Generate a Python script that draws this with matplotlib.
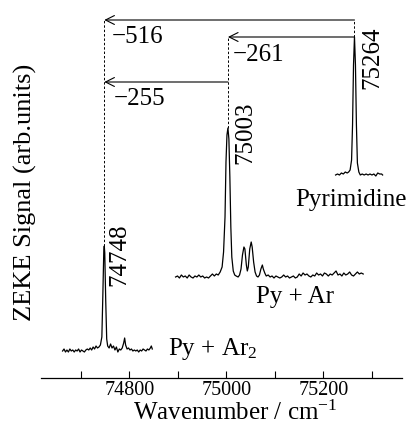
import matplotlib
matplotlib.use("Agg")
import matplotlib.pyplot as plt

plt.rcParams['font.family'] = ['Liberation Serif', 'DejaVu Serif']
plt.rcParams['mathtext.fontset'] = 'custom'
plt.rcParams['mathtext.rm'] = 'Liberation Serif'
plt.rcParams['mathtext.it'] = 'Liberation Serif:italic'

# ---------------- data ----------------
# Py + Ar2 spectrum (wavenumber, signal above its own baseline)
ar2_x = [74662, 74665, 74668, 74671, 74674, 74677, 74680, 74683, 74686, 74689,
         74692, 74695, 74698, 74701, 74704, 74707, 74710, 74713, 74716, 74719,
         74722, 74725, 74728, 74731, 74734, 74737, 74740, 74743, 74745, 74747,
         74748, 74749, 74751, 74753, 74755, 74758, 74761, 74764, 74767, 74770,
         74773, 74776, 74779, 74782, 74785, 74788, 74790, 74792, 74795, 74798,
         74801, 74804, 74807, 74810, 74813, 74816, 74819, 74822, 74825, 74828,
         74831, 74834, 74837, 74840, 74843, 74845, 74847]
ar2_y = [0, 2, -1, 1, -1, 2, 0, 1, -1, 1,
         0, 2, -1, 1, 0, -1, 1, 2, 1, 3,
         1, 4, 2, 5, 3, 4, 6, 14, 55, 100,
         105, 98, 50, 12, 5, 3, 7, 3, 5, 1,
         4, -1, 2, 1, 3, 8, 13, 6, 2, 3,
         1, 2, 0, 1, 0, 1, -1, 1, 0, 2,
         1, 0, 2, 1, 3, 5, 2]

# Py + Ar spectrum
ar_x = [74895, 74899, 74903, 74907, 74911, 74915, 74919, 74923, 74927, 74931,
        74935, 74939, 74943, 74947, 74951, 74955, 74959, 74963, 74967, 74971,
        74975, 74979, 74983, 74987, 74991, 74994, 74997, 74999, 75001, 75003,
        75005, 75007, 75009, 75011, 75014, 75017, 75020, 75024, 75027, 75030,
        75033, 75036, 75038, 75041, 75043, 75045, 75048, 75051, 75053, 75056,
        75059, 75062, 75065, 75068, 75071, 75074, 75076, 75079, 75082, 75086,
        75090, 75094, 75098, 75102, 75106, 75110, 75114, 75118, 75122, 75126,
        75130, 75134, 75138, 75142, 75146, 75150, 75154, 75158, 75162, 75166,
        75170, 75174, 75178, 75182, 75186, 75190, 75194, 75198, 75202, 75206,
        75210, 75214, 75218, 75222, 75226, 75230, 75234, 75238, 75242, 75246,
        75250, 75254, 75258, 75262, 75266, 75270, 75274, 75278, 75282]
ar_y = [0, 1, -1, 2, 0, 1, -1, 2, 0, -1,
        1, 0, 2, 0, 1, -1, 0, -1, 1, 3,
        1, 3, 2, 5, 10, 25, 60, 115, 142, 149,
        138, 100, 50, 20, 6, 2, 1, 0, 2, 8,
        22, 30, 28, 12, 6, 10, 28, 35, 30, 15,
        5, 1, 0, 2, 8, 12, 8, 4, 1, 2,
        0, 1, -1, 1, 0, -1, 0, 2, 0, 1,
        -1, 0, 1, -1, 0, 3, 1, 4, 2, 3,
        1, 0, 2, 1, 4, 2, 3, 1, 4, 3,
        1, 3, 2, 4, 6, 2, 3, 1, 4, 2,
        3, 5, 2, 1, 3, 5, 3, 4, 3]

# Pyrimidine spectrum
py_x = [75225, 75229, 75233, 75237, 75241, 75245, 75249, 75252, 75255, 75258,
        75260, 75262, 75264, 75266, 75268, 75270, 75273, 75276, 75280, 75284,
        75288, 75292, 75296, 75300, 75304, 75308, 75312, 75316, 75320, 75322]
py_y = [0, 1, 0, 2, 1, 3, 2, 3, 5, 15,
        50, 110, 138, 110, 50, 12, 3, 0, 1, 0,
        1, 0, 1, 0, 1, -1, 2, 1, 1, 0]

# vertical stacking offsets of the three traces
offsets = {'ar2': 27, 'ar': 101, 'py': 203}

peak_pos = [74748, 75003, 75264]
peak_labels = ['74748', '75003', '75264']
shifts = ['\u2212516', '\u2212261', '\u2212255']
names = ['Pyrimidine', 'Py + Ar', 'Py + Ar$_2$']

xticks = [74700, 74800, 74900, 75000, 75100, 75200, 75300]
xticklabels = ['', '74800', '', '75000', '', '75200', '']

# ---------------- figure ----------------
fig = plt.figure(figsize=(4.11, 4.24), dpi=100)
ax = fig.add_axes([41/411, 46/424, 361/411, 378/424])
ax.set_xlim(74617.5, 75362)
ax.set_ylim(0, 378)

lw = 0.9
ax.plot(ar2_x, [v + offsets['ar2'] for v in ar2_y], color='black', lw=lw)
ax.plot(ar_x, [v + offsets['ar'] for v in ar_y], color='black', lw=lw)
ax.plot(py_x, [v + offsets['py'] for v in py_y], color='black', lw=lw)

# peak tops
top_ar2 = max(ar2_y) + offsets['ar2']
top_ar = max(ar_y) + offsets['ar']
top_py = max(py_y) + offsets['py']

lvl1, lvl2, lvl3 = 358, top_py, 296

dash = dict(color='black', lw=0.7, linestyle=(0, (2.5, 2)))
ax.plot([peak_pos[0]] * 2, [top_ar2, lvl1], **dash)
ax.plot([peak_pos[1]] * 2, [top_ar, lvl2], **dash)
ax.plot([peak_pos[2]] * 2, [top_py, lvl1], **dash)

arr = dict(arrowstyle='->', lw=0.8, color='black', shrinkA=0, shrinkB=0,
           mutation_scale=16)
ax.annotate('', xy=(peak_pos[0], lvl1), xytext=(peak_pos[2], lvl1), arrowprops=arr)
ax.annotate('', xy=(peak_pos[1], lvl2), xytext=(peak_pos[2], lvl2), arrowprops=arr)
ax.annotate('', xy=(peak_pos[0], lvl3), xytext=(peak_pos[1], lvl3), arrowprops=arr)

fs = 18
ax.text(74764, 341, shifts[0], fontsize=fs, ha='left', va='center')
ax.text(75013, 323, shifts[1], fontsize=fs, ha='left', va='center')
ax.text(74768, 279, shifts[2], fontsize=fs, ha='left', va='center')

ax.text(75300, 320, peak_labels[2], fontsize=fs, rotation=90, ha='center', va='center')
ax.text(75040, 245, peak_labels[1], fontsize=fs, rotation=90, ha='center', va='center')
ax.text(74780, 123, peak_labels[0], fontsize=fs, rotation=90, ha='center', va='center')

ax.text(75257, 178, names[0], fontsize=fs, ha='center', va='center')
ax.text(75141, 81, names[1], fontsize=fs, ha='center', va='center')
ax.text(74879, 29, names[2], fontsize=fs, ha='left', va='center')

for s in ['left', 'right', 'top']:
    ax.spines[s].set_visible(False)
ax.spines['bottom'].set_linewidth(0.9)
ax.set_yticks([])
ax.set_xticks(xticks)
ax.set_xticklabels(xticklabels)
ax.tick_params(axis='x', direction='in', length=5, width=0.8, labelsize=14.5, pad=2)

fig.text(235/411, 4.5/424, 'Wavenumber / cm$^{\\mathrm{-1}}$', fontsize=18,
         ha='center', va='baseline')
fig.text(25/411, (424-192)/424, 'ZEKE Signal (arb.units)', fontsize=19,
         rotation=90, ha='center', va='center')

fig.savefig('out.png', dpi=100)
